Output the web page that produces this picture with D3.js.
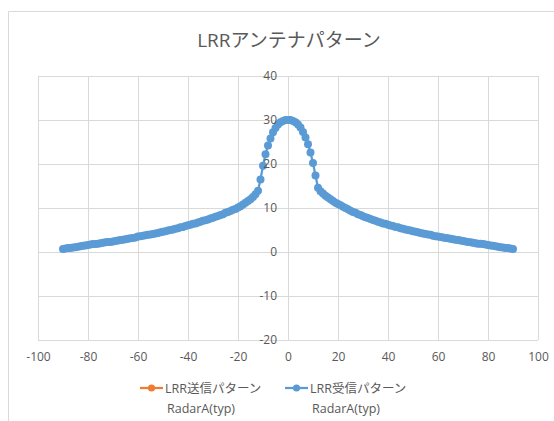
<!DOCTYPE html>
<html><head><meta charset="utf-8">
<script src="https://cdn.jsdelivr.net/npm/d3@7/dist/d3.min.js"></script>
<style>
html,body{margin:0;padding:0;background:#fff;}
svg{display:block;font-family:"Open Sans","Noto Sans CJK JP",sans-serif;}
</style></head>
<body>
<svg id="c" width="554" height="421"></svg>
<script>
const chartTitle = "LRRアンテナパターン";
const seriesNames = ["LRR送信パターン", "LRR受信パターン"];
const seriesSub = ["RadarA(typ)", "RadarA(typ)"];
const seriesColors = ["#ED7D31", "#5B9BD5"];
const xTicks = [-100, -80, -60, -40, -20, 0, 20, 40, 60, 80, 100];
const yTicks = [-20, -10, 0, 10, 20, 30, 40];
const angles = [
 -90,-89,-88,-87,-86,-85,-84,-83,-82,-81,-80,-79,-78,-77,-76,-75,-74,-73,-72,-71,
 -70,-69,-68,-67,-66,-65,-64,-63,-62,-61,-60,-59,-58,-57,-56,-55,-54,-53,-52,-51,
 -50,-49,-48,-47,-46,-45,-44,-43,-42,-41,-40,-39,-38,-37,-36,-35,-34,-33,-32,-31,
 -30,-29,-28,-27,-26,-25,-24,-23,-22,-21,-20,-19,-18,-17,-16,-15,-14,-13,-12,-11,
 -10,-9,-8,-7,-6,-5,-4,-3,-2,-1,0,1,2,3,4,5,6,7,8,9,
 10,11,12,13,14,15,16,17,18,19,20,21,22,23,24,25,26,27,28,29,
 30,31,32,33,34,35,36,37,38,39,40,41,42,43,44,45,46,47,48,49,
 50,51,52,53,54,55,56,57,58,59,60,61,62,63,64,65,66,67,68,69,
 70,71,72,73,74,75,76,77,78,79,80,81,82,83,84,85,86,87,88,89,90
];
// LRR受信パターン RadarA(typ)
const rxValues = [
 0.7,0.8,0.9,0.9,1.0,1.1,1.2,1.3,1.4,1.5,1.6,1.7,1.8,1.8,1.9,2.0,2.1,2.2,2.3,2.3,
 2.4,2.5,2.6,2.7,2.8,2.9,3.0,3.1,3.2,3.3,3.5,3.6,3.7,3.8,3.9,4.0,4.1,4.2,4.3,4.5,
 4.6,4.7,4.9,5.0,5.1,5.3,5.4,5.6,5.7,5.9,6.1,6.2,6.4,6.5,6.7,6.9,7.1,7.2,7.4,7.6,
 7.8,8.0,8.2,8.4,8.6,8.9,9.1,9.3,9.6,9.8,10.1,10.4,10.8,11.2,11.6,12.0,12.5,13.1,13.9,16.5,
 19.6,22.2,24.2,25.8,27.2,28.2,29.0,29.5,29.8,30.0,30.0,30.0,29.8,29.5,29.0,28.3,27.3,26.0,24.5,22.6,
 20.2,17.4,14.6,13.8,13.3,12.8,12.4,12.0,11.6,11.2,10.9,10.6,10.3,10.0,9.7,9.4,9.1,8.9,8.6,8.4,
 8.1,7.9,7.7,7.5,7.3,7.1,6.9,6.7,6.5,6.4,6.2,6.0,5.9,5.7,5.6,5.4,5.3,5.1,5.0,4.9,
 4.7,4.6,4.5,4.3,4.2,4.1,4.0,3.9,3.7,3.6,3.5,3.4,3.3,3.2,3.1,3.0,2.9,2.8,2.7,2.6,
 2.5,2.4,2.3,2.2,2.1,2.0,1.9,1.9,1.8,1.7,1.6,1.5,1.4,1.3,1.2,1.1,1.0,0.9,0.9,0.8,0.7
];

const svg = d3.select("#c");
const textCol = "#595959", gridCol = "#d9d9d9";

// chart area border (partly visible)
svg.append("path").attr("d", "M8.5,430V11.5H560").attr("fill", "none").attr("stroke", gridCol).attr("stroke-width", 1);

const x = d3.scaleLinear().domain([-100, 100]).range([38, 538]);
const y = d3.scaleLinear().domain([-20, 40]).range([340, 76]);

// gridlines
svg.append("g").attr("transform", `translate(0,${y(-20)})`)
  .call(d3.axisBottom(x).tickValues(xTicks).tickSize(-(y(-20) - y(40))).tickFormat(""))
  .call(g => g.select(".domain").remove())
  .call(g => g.selectAll("line").attr("stroke", gridCol).attr("shape-rendering", "crispEdges"));
svg.append("g").attr("transform", `translate(${x(-100)},0)`)
  .call(d3.axisLeft(y).tickValues(yTicks).tickSize(-(x(100) - x(-100))).tickFormat(""))
  .call(g => g.select(".domain").remove())
  .call(g => g.selectAll("line").attr("stroke", gridCol).attr("shape-rendering", "crispEdges"));

// series (blue, drawn on top)
const pts = angles.map((a, i) => [a, rxValues[i]]);
svg.append("path").datum(pts)
  .attr("fill", "none").attr("stroke", seriesColors[1]).attr("stroke-width", 2.25)
  .attr("d", d3.line().x(d => x(d[0])).y(d => y(d[1])));
svg.append("g").selectAll("circle").data(pts).join("circle")
  .attr("cx", d => x(d[0])).attr("cy", d => y(d[1])).attr("r", 4)
  .attr("fill", seriesColors[1]);

// x axis labels
svg.append("g").attr("transform", `translate(0,${y(-20)})`)
  .call(d3.axisBottom(x).tickValues(xTicks).tickSize(0).tickPadding(12).tickFormat(d => String(d)))
  .call(g => g.select(".domain").remove())
  .call(g => g.selectAll("text").attr("fill", textCol).attr("font-size", 12).attr("font-family", "'Open Sans',sans-serif"));

// y axis labels at x=0
svg.append("g").attr("transform", `translate(${x(0)},0)`)
  .call(d3.axisLeft(y).tickValues(yTicks).tickSize(0).tickPadding(11).tickFormat(d => String(d)))
  .call(g => g.select(".domain").remove())
  .call(g => g.selectAll("text").attr("fill", textCol).attr("font-size", 12).attr("font-family", "'Open Sans',sans-serif"));

// title
svg.append("text").attr("x", 289).attr("y", 47).attr("text-anchor", "middle")
  .attr("fill", textCol).attr("font-size", 19).text(chartTitle);

// legend
const legX = [140, 285];
seriesNames.forEach((n, i) => {
  const g = svg.append("g").attr("transform", `translate(${legX[i]},388)`);
  g.append("line").attr("x1", 0).attr("x2", 23).attr("y1", 0).attr("y2", 0)
    .attr("stroke", seriesColors[i]).attr("stroke-width", 2.25);
  g.append("circle").attr("cx", 11.5).attr("cy", 0).attr("r", 3.6).attr("fill", seriesColors[i]);
  g.append("text").attr("x", 25).attr("y", 4.5).attr("fill", textCol).attr("font-size", 12.5).text(n);
  g.append("text").attr("x", 27).attr("y", 25).attr("fill", textCol).attr("font-size", 12.5)
    .attr("font-family", "'Open Sans',sans-serif").text(seriesSub[i]);
});
</script>
</body></html>
